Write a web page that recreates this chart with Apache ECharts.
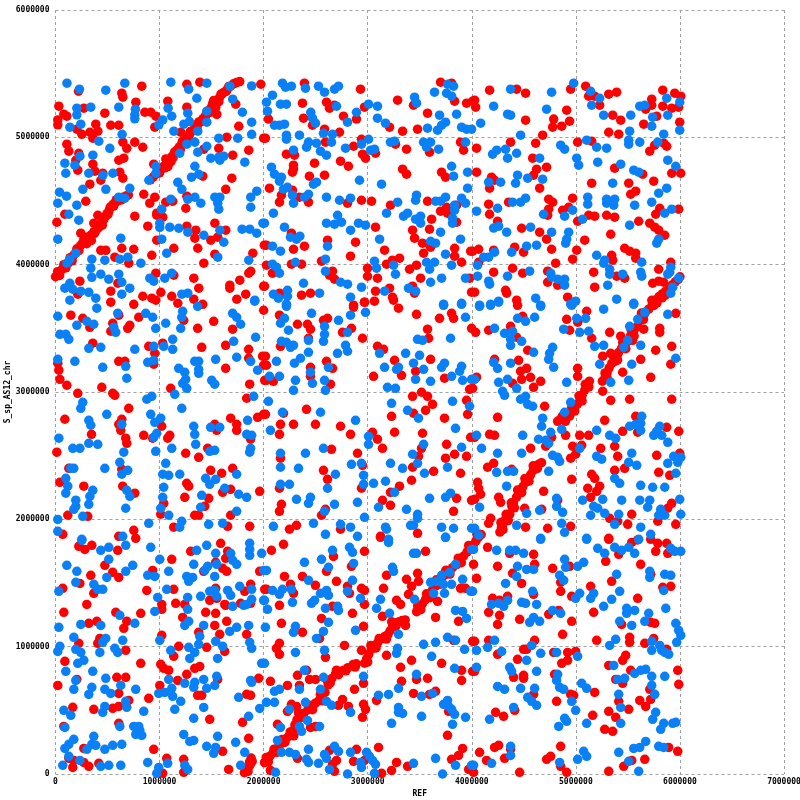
<!DOCTYPE html>
<html><head><meta charset="utf-8">
<style>html,body{margin:0;padding:0;background:#fff}#c{width:800px;height:800px}</style>
<script src="https://cdn.jsdelivr.net/npm/echarts@6/dist/echarts.min.js"></script>
</head><body><div id="c"></div>
<script>
// All positions in thousands of bases: [REF, S_sp_AS12_chr]
const xTicksMax = 7000, yTicksMax = 6000, tickStep = 1000;
const xName = "REF", yName = "S_sp_AS12_chr";
const redColor = "#ff0000", blueColor = "#0a80f6";

const redSyntenyA = [[0,3905],[30,3930],[60,3960],[90,3985],[120,4010],[150,4040],[175,4075],[195,4095],[215,4120],[240,4150],[260,4165],[285,4190],[300,4195],[320,4200],[345,4235],[370,4260],[390,4270],[415,4290],[440,4320],[465,4355],[480,4380],[495,4400],[515,4425],[535,4455],[555,4475],[575,4490],[600,4500],[625,4520],[650,4530],[680,4540],[700,4548],[300,4165],[335,4205],[345,4190],[290,4215],[40,3915],[100,3975],[160,4030],[225,4110],[310,4180],[375,4245],[450,4310],[505,4395],[560,4460],[640,4510],[20,3945],[80,4000],[140,4055],[205,4125],[270,4190],[330,4225],[395,4290],[455,4350],[525,4450],[585,4510]];
const redSyntenyB = [[912,4666],[940,4690],[965,4710],[990,4735],[1020,4760],[1045,4775],[1070,4800],[1090,4810],[1100,4830],[1120,4850],[1140,4870],[1165,4900],[1190,4925],[1215,4950],[1240,4975],[1265,5000],[1290,5025],[1315,5050],[1340,5075],[1365,5100],[1390,5120],[1415,5145],[1440,5165],[1460,5190],[1480,5215],[1500,5240],[1520,5255],[1540,5270],[1560,5295],[1575,5310],[1600,5340],[1620,5355],[1650,5375],[1680,5400],[1710,5420],[1740,5430],[1770,5438],[1530,5200],[1540,5235],[1550,5180],[1500,5200],[1520,5290],[1080,4770],[1110,4810],[1060,4830],[1050,4760],[1000,4720],[1060,4780],[1130,4840],[1200,4905],[1280,4990],[1360,5070],[1430,5130],[1490,5200],[1570,5280],[1640,5360],[1010,4755],[1075,4820],[1145,4885],[1220,4970],[1295,5045],[1375,5120],[1450,5190],[1510,5265],[1590,5340],[1665,5400]];
const redBlob = [[1815,10],[1830,25],[1845,40],[1860,60],[1875,80],[1890,100],[1880,125],[1865,95],[1850,20]];
const redSyntenyC = [[2010,90],[2035,115],[2060,140],[2090,165],[2120,195],[2150,225],[2185,245],[2210,275],[2240,295],[2270,310],[2285,340],[2300,385],[2320,425],[2350,450],[2385,475],[2425,505],[2460,530],[2495,555],[2530,575],[2560,600],[2590,640],[2620,700],[2655,750],[2690,785],[2735,805],[2770,815],[2810,835],[2860,860],[2890,865],[2970,870],[2990,905],[3010,940],[3035,980],[3060,1000],[3095,1030],[3130,1060],[3165,1080],[3195,1095],[3215,1125],[3240,1160],[3265,1185],[3300,1195],[3330,1205],[3360,1210],[3470,1275],[3495,1300],[3525,1335],[3555,1370],[3590,1405],[3620,1440],[3650,1475],[3680,1510],[3715,1545],[3745,1565],[3780,1590],[3815,1620],[3855,1645],[3885,1675],[3920,1710],[3955,1745],[3985,1775],[4015,1800],[4040,1830],[4065,1860],[4090,1880],[2045,95],[2125,170],[2205,250],[2290,300],[2365,445],[2470,505],[2570,575],[2640,715],[2720,780],[2790,810],[2880,840],[3000,880],[3080,990],[3180,1060],[3270,1160],[3350,1185],[3510,1290],[3600,1385],[3690,1490],[3790,1570],[3900,1660],[4000,1770],[2025,130],[2100,195],[2175,270],[2255,330],[2335,480],[2440,540],[2545,625],[2610,735],[2700,815],[3030,1010],[3110,1065],[3230,1195],[3480,1320],[3565,1415],[3660,1525],[3750,1600],[3870,1695],[3970,1795],[4050,1880]];
const redSyntenyD = [[4270,1900],[4285,1935],[4300,1965],[4320,1995],[4345,2020],[4365,2040],[4385,2100],[4400,2130],[4430,2175],[4460,2215],[4490,2255],[4515,2290],[4540,2310],[4565,2350],[4590,2385],[4615,2415],[4640,2430],[4670,2445],[4300,1920],[4350,1990],[4410,2090],[4480,2210],[4550,2300],[4630,2400],[4280,1975],[4330,2040],[4380,2130],[4440,2230],[4510,2320],[4590,2420]];
const redSyntenyE = [[4825,2770],[4850,2785],[4880,2790],[4910,2800],[4940,2810],[4965,2850],[4990,2885],[5015,2905],[5040,2930],[5060,2975],[5085,3015],[5110,3050],[5130,3085],[4900,2770],[4990,2850],[5060,2930],[5125,3040],[4870,2810],[4960,2880],[5030,2970],[5090,3060]];
const redSyntenyF = [[5255,3085],[5280,3110],[5300,3150],[5320,3190],[5345,3225],[5375,3240],[5395,3275],[5410,3310],[5440,3345],[5470,3370],[5500,3400],[5525,3440],[5555,3475],[5585,3510],[5615,3560],[5640,3590],[5665,3620],[5700,3650],[5735,3690],[5770,3725],[5800,3750],[5830,3770],[5860,3790],[5895,3810],[5925,3840],[5955,3865],[5985,3885],[6000,3905],[5780,3700],[5830,3740],[5860,3760],[5300,3110],[5400,3250],[5480,3340],[5560,3440],[5650,3570],[5750,3680],[5280,3150],[5360,3280],[5450,3390],[5530,3490],[5630,3620],[5730,3720]];

const redTop = [[221,5362],[829,5402],[637,5347],[647,5315],[1262,5417],[1387,5433],[1973,5417],[32,5245],[80,5182],[109,5166],[22,5137],[22,5098],[272,5229],[474,5190],[772,5276],[858,5197],[916,5197],[964,5166],[1079,5284],[1262,5237],[1732,5260],[387,5103],[531,5095],[608,5095],[205,5064],[253,5024],[330,5040],[407,5048],[359,4993],[954,5080],[1204,5040],[1761,5087],[109,4946],[128,4891],[224,4875],[195,4820],[214,4742],[359,4789],[378,4734],[435,4663],[455,4718],[608,4820],[656,4836],[647,4962],[685,4914],[762,4962],[839,4922],[618,4726],[647,4679],[944,4789],[1646,5001],[1569,4914],[1703,4860],[1857,4899],[2000,4993],[1425,4907],[1415,4695],[1694,4679],[1636,4592],[330,4632],[848,4553],[954,4530],[906,4483],[1060,4491],[1127,4498],[1262,4538],[1252,4443],[291,4498],[762,4381],[407,4388],[368,4326],[973,4404],[973,4388],[1031,4373],[887,4302],[1262,4302],[1348,4271],[1339,4208],[1531,4326],[1636,4271],[1559,4216],[1492,4192],[243,4247],[13,4333],[90,4396],[973,4192],[435,4113],[484,4113],[637,4129],[752,4121],[1137,4129],[1367,4129],[925,4074],[570,4059],[704,4012],[1425,4012],[1896,4090],[1531,4082],[2007,4153],[964,3933],[1137,3917],[1329,3894],[1857,3933],[1876,3948],[1771,3878],[1675,3839],[1675,3815],[1377,3815],[2000,3831],[234,3870],[599,3854],[531,3792],[531,3705],[1012,3783],[839,3752],[925,3737],[964,3721],[1117,3752],[1175,3697],[1329,3729],[1415,3689],[1828,3768],[1742,3729],[752,3689],[214,3768],
[2392,5425],[2931,5378],[3700,5433],[3806,5425],[3287,5292],[2373,5268],[2604,5276],[2633,5229],[2681,5252],[2969,5237],[3440,5252],[3835,5284],[3950,5268],[4008,5284],[3575,5190],[2767,5166],[2892,5143],[2383,5150],[2469,5095],[2046,5143],[2017,4993],[2585,5064],[2729,5040],[3210,5080],[3335,5048],[3479,5064],[2594,4962],[2864,4930],[2940,4985],[2219,4868],[2296,4860],[3267,4946],[3373,4907],[3594,4883],[3892,4962],[3921,4899],[2950,4868],[2979,4836],[3075,4875],[2739,4813],[2815,4773],[2489,4797],[2287,4781],[2287,4750],[2277,4726],[2440,4695],[2585,4703],[3335,4750],[3373,4711],[3710,4726],[3748,4687],[2056,4601],[2277,4585],[2171,4546],[2152,4491],[2344,4530],[2431,4491],[2806,4483],[2940,4506],[3037,4498],[3219,4467],[3575,4498],[3700,4420],[3758,4451],[3767,4404],[3854,4467],[3614,4357],[3594,4279],[3854,4334],[3431,4271],[3450,4208],[3075,4294],[2267,4247],[2614,4192],[2883,4177],[2027,4153],[2287,4121],[2392,4145],[3527,4169],[3604,4137],[3835,4129],[3989,4106],[3162,4114],[3537,4090],[3835,4067],[2835,4067],[3306,4051],[3238,4035],[3181,4004],[3469,3996],[3402,3964],[3902,4019],[2556,4027],[2364,4004],[2267,4004],[2027,3996],[2085,3933],[2662,3949],[2681,3886],[2633,3917],[2998,3972],[2998,3909],[3094,3894],[3508,3894],[3979,3894],[2008,3831],[3210,3815],[3075,3792],[3431,3831],[3450,3776],[3998,3784],[2152,3776],[2364,3760],[2450,3776],[3238,3745],[3248,3721],[2969,3705],[3065,3713],[2864,3682],
[4171,5370],[4431,5378],[4517,5347],[4950,5378],[5094,5402],[5123,5323],[5181,5323],[5316,5339],[5392,5355],[5835,5370],[5950,5347],[6008,5323],[4027,5292],[4037,5237],[5229,5252],[5729,5300],[5729,5252],[5835,5245],[5921,5229],[5988,5237],[5671,5221],[4912,5213],[4787,5143],[4940,5127],[4864,5088],[4777,5080],[4517,5135],[5354,5174],[5431,5135],[5652,5103],[5777,5166],[5998,5119],[5316,5040],[5412,5025],[4681,5017],[4614,4954],[4373,4962],[5017,4962],[5152,4970],[4046,4915],[5710,4891],[5758,4938],[5844,4954],[5873,4930],[4585,4836],[4719,4766],[5373,4758],[5642,4711],[5921,4718],[6008,4718],[4046,4726],[4623,4750],[4594,4703],[4190,4687],[4219,4663],[4171,4601],[5748,4656],[5152,4640],[5508,4640],[4652,4601],[5575,4577],[5527,4553],[4739,4514],[4777,4491],[4969,4522],[4162,4475],[4354,4491],[4739,4436],[4729,4388],[4873,4428],[4931,4451],[4171,4396],[5123,4388],[5181,4381],[5296,4388],[5373,4373],[5017,4341],[5988,4436],[5806,4443],[5767,4396],[4248,4341],[5604,4341],[5710,4326],[5758,4294],[5796,4271],[5854,4231],[4479,4286],[4652,4255],[4719,4200],[5335,4239],[5085,4192],[4412,4137],[4767,4121],[5008,4114],[5469,4129],[5517,4106],[5575,4090],[5575,4051],[5344,4074],[5354,4035],[4969,4043],[4210,4114],[4498,4098],[4066,4121],[4008,4106],[4066,4019],[4806,4012],[4392,3972],[4210,3941],[4489,3933],[4729,3949],[5171,3941],[5912,4019],[5796,3964],[5392,3910],[5469,3894],[4729,3862],[4825,3839],[5181,3823],[5738,3854],[5796,3870],[5844,3862],[4027,3784],[4325,3799],[4335,3776],[4431,3721],[4921,3745]];

const redMiddle = [[147,3603],[262,3579],[330,3508],[608,3603],[800,3587],[550,3540],[531,3477],[714,3524],[694,3500],[1232,3563],[1520,3555],[1366,3500],[1702,3493],[2000,3642],[358,3383],[896,3359],[1030,3383],[1405,3351],[1635,3367],[1856,3335],[954,3304],[1856,3265],[1990,3281],[608,3241],[666,3241],[944,3218],[22,3226],[32,3171],[42,3100],[109,3053],[1635,3186],[2000,3210],[214,2990],[445,3037],[550,2990],[570,2974],[1107,3029],[1866,3061],[2010,3092],[1837,2951],[704,2872],[90,2786],[637,2786],[608,2746],[627,2699],[1021,2731],[1683,2794],[1741,2746],[1741,2699],[1942,2801],[2000,2825],[1530,2746],[1549,2699],[346,2668],[848,2660],[1098,2660],[1078,2637],[934,2637],[675,2637],[685,2597],[1875,2629],[13,2527],[1251,2519],[1376,2487],[1462,2558],[128,2401],[637,2393],[1491,2385],[1702,2401],[1597,2362],[42,2291],[272,2260],[646,2260],[1261,2283],[1280,2260],[1683,2236],[1606,2212],[1962,2220],[762,2205],[1242,2173],[1472,2165],[1040,2126],[1434,2102],[118,2032],[310,2024],[1011,2040],[1338,2032],[1376,2032],[1683,2032],[1136,1938],[1654,1945],[1866,1945],[752,1914],[608,1867],[771,1851],[70,1882],
[2864,3665],[2969,3705],[3296,3658],[3469,3610],[2152,3603],[2614,3579],[2575,3563],[2325,3532],[2421,3532],[2450,3493],[3806,3618],[3825,3579],[3690,3579],[2844,3500],[2758,3469],[2950,3422],[3575,3493],[3585,3422],[3998,3500],[2431,3422],[2162,3359],[3094,3359],[3152,3335],[2017,3281],[2027,3210],[2604,3241],[2450,3194],[2450,3123],[2662,3186],[3258,3249],[3604,3257],[3460,3163],[3325,3131],[3056,3123],[3738,3108],[2027,3092],[2094,3084],[2642,3061],[3979,3021],[3431,2966],[3517,2998],[3575,2966],[3623,2903],[3556,2856],[3950,2935],[3960,2825],[2412,2864],[2017,2825],[2191,2833],[3229,2809],[3440,2833],[3738,2794],[2162,2746],[2287,2746],[2498,2746],[2739,2731],[2152,2668],[2835,2668],[3046,2684],[3258,2684],[3527,2676],[3094,2629],[3142,2558],[3989,2644],[3758,2589],[3517,2558],[2652,2550],[2902,2519],[3488,2495],[3835,2511],[3748,2480],[3950,2495],[2162,2480],[2950,2424],[3431,2409],[2575,2385],[3633,2377],[3892,2362],[2614,2314],[3421,2307],[3306,2260],[2940,2244],[2152,2244],[3219,2212],[3142,2149],[3854,2165],[3998,2149],[3219,2110],[2171,2118],[2152,2063],[2594,2079],[2556,2032],[3825,2063],[2248,1922],[2316,1953],[2739,1922],[3479,1890],[3123,1867],
[4440,3681],[5104,3634],[4912,3571],[5018,3548],[4489,3595],[5960,3618],[4037,3469],[4162,3485],[4373,3516],[4431,3430],[4940,3485],[5152,3422],[5325,3469],[5652,3493],[5806,3500],[5806,3469],[5431,3438],[5546,3406],[4537,3328],[5921,3359],[5767,3328],[4219,3257],[4450,3249],[5258,3281],[5335,3304],[5623,3257],[5912,3218],[4469,3163],[4527,3186],[5017,3186],[5017,3123],[5450,3155],[5719,3115],[4565,3115],[4479,3100],[4662,3084],[4392,3068],[4594,3037],[4046,3116],[4008,3029],[5258,3006],[5335,2935],[5517,2943],[5921,2943],[4700,2888],[4248,2801],[5277,2778],[5575,2809],[5873,2723],[5989,2691],[5450,2691],[5594,2684],[4027,2644],[4171,2668],[4219,2660],[4902,2660],[5037,2660],[5123,2660],[4565,2558],[4969,2574],[5056,2581],[5239,2558],[5373,2574],[4710,2574],[4767,2644],[4998,2511],[4950,2480],[5402,2495],[5777,2503],[5998,2519],[4152,2409],[4210,2440],[4383,2393],[5373,2385],[5469,2401],[5796,2369],[5902,2346],[5152,2354],[5181,2322],[4960,2314],[4056,2291],[4066,2244],[4085,2197],[4027,2157],[4690,2220],[4258,2173],[4277,2134],[5114,2244],[5229,2260],[5200,2220],[5142,2173],[4825,2150],[4508,2087],[4671,2079],[5921,2126],[5883,2087],[4181,2008],[4162,1969],[5325,2008],[5402,1985],[5537,2040],[5498,1961],[5787,1985],[5960,1961],[4517,1938],[4729,1930],[4950,1945],[5316,1851],[5594,1838],[4075,1882]];

const redBottom = [[224,1788],[282,1764],[349,1796],[598,1757],[1587,1812],[1299,1749],[1654,1749],[1635,1694],[1117,1686],[474,1639],[1539,1662],[550,1584],[608,1544],[339,1560],[934,1599],[1606,1615],[1645,1592],[1424,1592],[1962,1592],[70,1458],[234,1497],[368,1419],[877,1442],[1136,1450],[1539,1458],[1875,1490],[1818,1435],[2010,1450],[301,1332],[1021,1332],[1021,1293],[1155,1340],[1242,1332],[1482,1364],[1549,1380],[1626,1332],[1779,1340],[1635,1325],[1875,1340],[80,1270],[579,1270],[819,1262],[1443,1270],[1539,1262],[1222,1230],[1645,1199],[685,1199],[656,1144],[320,1183],[397,1199],[1530,1167],[1376,1113],[1578,1097],[1837,1097],[1021,1089],[426,1065],[406,1026],[224,1026],[1184,1003],[1453,995],[675,971],[1136,924],[1626,963],[90,885],[819,869],[1011,861],[1040,830],[1088,814],[1338,830],[1386,845],[1261,783],[589,759],[675,759],[1174,735],[205,743],[1952,751],[1558,743],[22,696],[1002,696],[608,633],[1366,618],[1405,618],[896,594],[1837,626],[1875,618],[704,578],[166,524],[368,508],[550,516],[608,531],[1482,429],[1798,406],[80,374],[608,398],[1856,280],[272,201],[944,194],[1606,178],[1069,123],[1232,115],[176,107],[166,52],[272,91],[320,60],[416,84],[1030,5],[1232,13],[1664,36],[2010,91],[128,123],
[2191,1804],[2075,1757],[3123,1859],[3556,1749],[2969,1749],[2671,1709],[2844,1631],[2604,1592],[2200,1552],[2373,1552],[2258,1490],[3181,1560],[3373,1529],[3479,1576],[2700,1513],[2498,1482],[2027,1450],[2287,1419],[2806,1474],[2825,1419],[2940,1458],[2969,1442],[3152,1458],[3421,1474],[3392,1411],[3488,1513],[3892,1458],[3940,1458],[2152,1325],[2969,1332],[2662,1317],[3277,1364],[3316,1332],[3671,1356],[2854,1262],[3142,1238],[2556,1222],[3652,1230],[3873,1199],[2171,1183],[2960,1160],[2373,1113],[3363,1167],[2537,1065],[3825,1050],[4008,1042],[2152,1026],[2123,987],[2152,940],[2777,1010],[2940,971],[2594,916],[3181,932],[3421,893],[3710,869],[3316,838],[2325,775],[2412,814],[2065,728],[2441,743],[2498,743],[3575,751],[3902,814],[4008,806],[3902,735],[3325,728],[3469,743],[2229,696],[2344,696],[2960,712],[2873,665],[3440,633],[3594,625],[3652,649],[3085,578],[2758,586],[2719,539],[2815,531],[2960,547],[2979,508],[2950,445],[2316,531],[2267,547],[2229,492],[3777,492],[2133,390],[2450,366],[2498,374],[3767,304],[3104,209],[3912,201],[3873,146],[3806,115],[2892,194],[2633,186],[2700,107],[2325,123],[2864,100],[2969,107],[2662,76],[3277,91],[3383,60],[3229,28],[3133,5],[2681,21],[2065,28],[3970,36],
[4152,1780],[5316,1843],[4364,1733],[4594,1725],[5412,1725],[5537,1819],[5719,1843],[5787,1812],[5873,1812],[5767,1749],[5883,1733],[5287,1670],[4017,1647],[4248,1631],[4604,1647],[4777,1615],[4940,1631],[5623,1647],[4392,1576],[4046,1537],[4479,1497],[4854,1505],[5344,1513],[5719,1568],[5912,1474],[5835,1466],[4854,1435],[5142,1474],[4594,1411],[4960,1395],[5594,1380],[4200,1380],[4344,1395],[4267,1364],[4162,1270],[4267,1246],[5171,1270],[4460,1215],[4739,1254],[4835,1285],[4248,1175],[4960,1199],[5440,1175],[5719,1191],[5758,1183],[4873,1097],[5517,1073],[5517,1034],[5200,1050],[5748,1065],[5662,1026],[4027,1042],[4162,1050],[4604,1050],[4498,979],[4527,979],[4248,940],[4787,955],[4921,955],[4998,963],[4921,893],[4864,869],[4440,901],[5479,932],[5450,893],[5316,853],[5873,979],[4027,806],[4498,775],[4498,751],[4402,759],[4796,783],[5979,814],[5383,743],[5450,712],[5527,814],[5989,704],[5710,665],[5181,641],[4594,626],[4950,626],[4979,618],[4815,571],[5412,571],[5614,578],[5719,586],[5671,531],[5508,508],[4412,500],[4229,484],[4306,453],[5316,492],[5383,445],[5162,461],[5277,351],[5354,335],[4219,209],[4258,225],[4854,217],[4373,194],[4075,170],[5892,209],[5979,178],[4142,107],[4315,123],[4719,115],[4758,139],[5662,115],[5537,107],[5460,60],[4854,60],[4460,13],[4912,13],[5316,21],[4017,13]];

const blueTop = [[110,5425],[230,5378],[483,5370],[666,5425],[1108,5433],[1280,5378],[1454,5425],[1675,5402],[1885,5404],[1358,5307],[1703,5300],[205,5229],[205,5177],[339,5237],[608,5237],[768,5221],[762,5177],[762,5145],[1082,5229],[1117,5166],[1271,5190],[1287,5124],[1233,5103],[1454,5205],[1454,5119],[1796,5197],[1885,5119],[1031,5137],[993,5098],[138,5080],[243,5103],[640,5024],[1137,5048],[1367,5048],[1885,5024],[1751,4993],[1569,4993],[416,4970],[522,4914],[1262,4946],[1339,4962],[1454,4930],[1367,4883],[1194,4875],[234,4852],[359,4860],[90,4797],[186,4781],[99,4718],[320,4718],[455,4702],[551,4718],[964,4773],[964,4718],[897,4663],[1492,4836],[1569,4844],[1617,4852],[1579,4820],[1819,4805],[1339,4773],[1377,4710],[1307,4687],[1175,4647],[1214,4592],[263,4592],[484,4592],[714,4600],[608,4530],[666,4522],[38,4569],[106,4538],[22,4483],[205,4467],[1108,4514],[1271,4514],[1339,4530],[1396,4483],[1531,4530],[1579,4530],[1559,4483],[1569,4436],[1876,4530],[1934,4577],[1876,4451],[1021,4436],[128,4396],[224,4349],[1002,4326],[1002,4292],[1098,4294],[1184,4286],[1271,4255],[1425,4231],[1579,4271],[1617,4176],[1793,4279],[1867,4279],[1934,4247],[1993,4326],[22,4200],[627,4208],[1021,4200],[1069,4090],[195,4090],[138,4043],[109,4012],[349,4043],[474,4035],[618,4043],[695,4059],[820,4012],[1559,4059],[1857,4035],[339,3972],[435,3925],[349,3901],[608,3925],[512,3886],[637,3862],[906,3894],[944,3870],[1050,3894],[1117,3933],[138,3854],[90,3815],[166,3807],[243,3792],[320,3783],[387,3737],[138,3721],[714,3815],[637,3768],[1214,3768],[1271,3776],[1915,3721],
[2181,5425],[2210,5394],[2267,5402],[2085,5331],[2027,5276],[2162,5260],[2219,5260],[2402,5386],[2527,5402],[2585,5355],[2681,5378],[2719,5402],[3642,5355],[3767,5417],[3825,5402],[3758,5347],[3806,5323],[3450,5315],[3469,5268],[2700,5245],[3008,5260],[3094,5245],[2037,5205],[2453,5197],[2469,5150],[2498,5111],[2892,5197],[2806,5119],[3094,5150],[3171,5111],[3690,5174],[3854,5182],[3748,5119],[3710,5095],[3671,5056],[3902,5080],[3950,5064],[3998,5064],[3575,5072],[2104,5095],[2152,5095],[2200,5103],[2219,5017],[2219,4985],[2344,5017],[2575,5032],[2662,5024],[2652,4962],[2431,4962],[2412,4923],[2508,4954],[2546,4891],[2604,4860],[2787,4915],[3008,4985],[2940,4946],[3027,4899],[3065,4907],[3219,4962],[3258,4970],[3537,4962],[3604,4962],[3565,4923],[3681,4907],[3940,4962],[2287,4899],[2075,4766],[2104,4711],[2171,4687],[2152,4656],[2191,4593],[2229,4608],[2479,4632],[2508,4648],[2921,4663],[3133,4632],[3806,4773],[3825,4695],[3960,4726],[3960,4601],[2277,4546],[2287,4483],[2392,4530],[2431,4553],[2604,4530],[2729,4506],[2835,4522],[3469,4546],[3460,4506],[3287,4491],[3652,4498],[3700,4498],[3748,4530],[3902,4522],[3940,4483],[3835,4467],[3835,4428],[3815,4365],[3815,4326],[2094,4404],[2008,4326],[3181,4404],[3344,4381],[3383,4404],[3460,4357],[3508,4381],[3508,4326],[2710,4388],[2604,4326],[2681,4318],[2748,4334],[2912,4326],[2979,4310],[2835,4271],[2200,4294],[2258,4216],[2316,4200],[2348,4224],[2085,4145],[2162,4106],[2614,4145],[3114,4200],[3700,4255],[3892,4200],[3604,4184],[3652,4169],[3748,4082],[2594,4043],[2085,4004],[2123,3980],[2306,4019],[3065,4027],[3248,3996],[3085,3972],[3565,4019],[3642,4019],[3594,3964],[3806,3996],[2152,3933],[2594,3949],[3267,3925],[2383,3854],[2739,3862],[2806,3847],[2940,3823],[3604,3862],[3710,3894],[3940,3894],[3392,3815],[3460,3792],[3162,3792],[2229,3799],[2094,3768],[2142,3737],[2229,3752],[2537,3776],[2835,3745],[2219,3690],[3729,3690],[3902,3697],
[4373,5378],[4767,5355],[4979,5425],[5142,5362],[5229,5307],[5152,5252],[5873,5307],[5998,5276],[4210,5245],[4344,5182],[4373,5174],[4719,5221],[5614,5245],[5662,5252],[5267,5174],[5527,5174],[5883,5174],[5738,5158],[5729,5088],[4085,5111],[5517,5048],[5998,5056],[4469,5017],[5844,5025],[5104,4978],[5200,4923],[5296,4915],[5508,4978],[5508,4946],[5614,4962],[5787,4962],[4854,4938],[4892,4907],[4200,4868],[4239,4899],[4325,4907],[4431,4875],[4344,4836],[4652,4836],[5008,4836],[5027,4781],[5210,4805],[5431,4789],[5883,4821],[5960,4773],[5556,4742],[5604,4726],[4440,4703],[4421,4640],[4537,4679],[4681,4671],[4162,4648],[4277,4648],[5354,4640],[5873,4601],[5796,4561],[5114,4530],[5114,4475],[5296,4514],[5373,4514],[5296,4483],[5364,4467],[5565,4467],[5729,4491],[4392,4491],[4469,4491],[4517,4522],[4046,4420],[4248,4443],[4969,4428],[4690,4396],[4892,4381],[5065,4357],[5854,4404],[5921,4436],[5517,4310],[4210,4287],[4258,4302],[4335,4255],[4565,4294],[4767,4255],[4931,4255],[4912,4200],[4902,4169],[4623,4153],[4527,4145],[4383,4098],[4219,4098],[4162,4059],[4114,4059],[4056,3996],[5200,4074],[5277,4035],[5267,4012],[5633,4019],[5796,4200],[5777,4169],[4056,3910],[4344,3910],[4556,3949],[4162,3870],[4171,3847],[4758,3933],[4767,3902],[4825,3886],[4892,3886],[4892,3839],[5325,3964],[5325,3925],[5450,3925],[5623,3941],[5633,3910],[5912,3980],[5902,3941],[5883,3925],[5988,3894],[5931,3823],[5912,3776],[5306,3839],[5392,3729],[4614,3737],[4998,3713],[4950,3690],[5556,3697],[4258,3713],[4181,3690],[4075,3682],[4662,3682]];

const blueMiddle = [[397,3658],[22,3595],[598,3618],[205,3524],[301,3555],[368,3532],[867,3618],[934,3587],[1059,3540],[1222,3634],[1213,3587],[1203,3500],[1366,3673],[1702,3618],[1741,3587],[1779,3532],[1914,3713],[560,3508],[579,3469],[963,3500],[42,3453],[99,3453],[128,3414],[1126,3414],[1712,3398],[1923,3430],[320,3343],[435,3351],[762,3335],[944,3359],[1040,3359],[1126,3335],[22,3257],[186,3241],[944,3249],[886,3233],[675,3202],[454,3194],[685,3108],[1338,3241],[1376,3241],[1539,3257],[1741,3273],[1875,3241],[1942,3171],[1184,3186],[1242,3155],[1376,3178],[1376,3147],[1251,3100],[1222,3068],[1261,3029],[1501,3092],[1530,3061],[1146,2982],[877,2943],[925,2966],[262,2919],[243,2872],[1213,2872],[1904,2966],[493,2825],[915,2825],[320,2778],[339,2739],[637,2746],[1011,2794],[954,2762],[1328,2731],[1338,2668],[1491,2723],[1578,2723],[1846,2778],[973,2676],[944,2644],[1837,2668],[1885,2660],[32,2637],[320,2597],[406,2589],[166,2558],[234,2558],[1347,2589],[1117,2558],[963,2534],[656,2527],[1482,2534],[1530,2542],[1875,2558],[1866,2527],[147,2401],[176,2401],[474,2401],[618,2448],[1059,2440],[694,2385],[637,2354],[1030,2354],[1088,2346],[1194,2354],[1741,2354],[99,2322],[118,2260],[99,2205],[1443,2322],[1482,2275],[1539,2314],[1040,2252],[1626,2244],[685,2228],[714,2181],[358,2228],[330,2181],[1405,2189],[1760,2197],[1837,2173],[1030,2173],[320,2118],[195,2150],[195,2102],[176,2079],[675,2087],[1011,2087],[1395,2095],[262,2024],[1088,2032],[1741,2063],[22,1999],[896,1969],[1213,1985],[1194,1938],[1472,1961],[1606,1969],[22,1906],[646,1867],[253,1843],
[2219,3673],[2460,3618],[2835,3603],[2979,3626],[2200,3579],[2162,3540],[2239,3485],[2719,3563],[2585,3516],[2585,3453],[2575,3398],[2806,3469],[2171,3398],[2219,3390],[2258,3351],[2287,3367],[2431,3406],[2431,3312],[2787,3367],[2806,3320],[2710,3304],[2123,3241],[2296,3226],[2354,3265],[2623,3194],[2450,3155],[2056,3123],[2152,3123],[2306,3092],[2469,3068],[2585,3092],[2594,3013],[2287,3013],[3729,3681],[3902,3689],[3940,3587],[3796,3422],[3479,3414],[3527,3406],[3364,3304],[3498,3288],[3114,3304],[3440,3226],[3162,3194],[3277,3178],[3296,3194],[3537,3178],[3710,3194],[3738,3226],[3902,3202],[3883,3163],[3806,3123],[3460,3100],[3604,3084],[3912,3092],[3998,3100],[3190,3037],[3267,3029],[2046,2927],[2181,2841],[2546,2841],[2883,2778],[3229,2911],[3383,2856],[3488,2794],[3815,2927],[3979,2888],[3844,2715],[2065,2699],[3008,2652],[3008,2589],[2575,2558],[2402,2519],[2162,2519],[2162,2409],[2335,2401],[2844,2432],[2940,2440],[2690,2354],[2960,2346],[2960,2275],[2614,2244],[2162,2275],[2248,2275],[3056,2283],[3171,2299],[3537,2589],[3431,2511],[3902,2566],[3479,2440],[3219,2440],[3335,2401],[3546,2362],[3767,2409],[3258,2212],[2316,2157],[2450,2173],[2431,2126],[2681,2118],[2902,2134],[2585,2063],[3594,2165],[3748,2173],[3796,2205],[3104,2095],[3373,2079],[3479,2040],[3479,2008],[2969,2016],[2094,1945],[2479,1969],[2739,1961],[2835,1938],[2594,1882],[2902,1867],[3171,1938],[3181,1922],[3412,1953],[3440,1953],[3710,1938],[3825,1930],[3748,1859],[3998,1930],[3200,1843],
[4075,3673],[4181,3681],[4258,3705],[4662,3673],[5267,3650],[4960,3681],[5556,3689],[4440,3579],[4517,3555],[4604,3587],[5008,3579],[5094,3579],[5883,3610],[5662,3626],[5594,3571],[5517,3516],[4219,3500],[4315,3461],[4392,3477],[4373,3414],[4373,3367],[4479,3398],[4883,3493],[5037,3469],[5123,3477],[5498,3406],[5460,3351],[5623,3367],[5181,3359],[5267,3367],[4777,3351],[4748,3304],[4739,3257],[4594,3312],[5960,3265],[4210,3233],[4248,3186],[4373,3226],[4787,3194],[5229,3218],[5537,3218],[4027,3100],[4258,3076],[4344,3100],[4431,3029],[4912,3076],[5335,3076],[5508,3092],[4296,3006],[4315,2974],[4469,2943],[4517,2966],[4537,2903],[4585,2888],[4950,2919],[4892,2841],[4681,2794],[4671,2731],[4864,2707],[4758,2684],[4046,2660],[4489,2660],[4642,2629],[4710,2621],[4739,2597],[5200,2699],[5325,2660],[5383,2636],[5037,2558],[4094,2558],[4248,2519],[4479,2519],[4777,2503],[4825,2487],[4844,2456],[5200,2495],[5248,2472],[5537,2519],[5508,2448],[5585,2424],[5633,2809],[5517,2731],[5575,2746],[5623,2754],[5623,2699],[5806,2731],[5777,2691],[5748,2660],[5825,2660],[5883,2605],[4239,2369],[4344,2377],[4402,2377],[4739,2377],[5883,2440],[5940,2495],[6008,2487],[5979,2448],[5960,2362],[5373,2322],[5421,2283],[5623,2267],[5738,2252],[5854,2252],[4335,2260],[5065,2150],[5258,2157],[5440,2150],[5614,2150],[5710,2150],[5690,2095],[5998,2157],[4815,2165],[4815,2102],[4873,2055],[4075,2095],[4527,2047],[4652,2071],[5171,2102],[5142,2032],[5210,2087],[5277,2047],[5412,2040],[5815,2079],[5796,2032],[5854,2032],[6008,2040],[5373,1961],[4431,1953],[4864,1969],[4892,1898],[5623,1938],[5719,1882],[4027,1930],[4066,1875],[4662,1851],[5104,1851]];

const blueBottom = [[253,1835],[675,1796],[435,1757],[512,1780],[915,1780],[1453,1796],[1357,1757],[1539,1733],[1683,1733],[1866,1812],[1866,1764],[1866,1717],[1981,1733],[1002,1686],[512,1686],[109,1639],[1328,1647],[1702,1678],[1741,1647],[1549,1647],[1462,1631],[1434,1599],[205,1592],[742,1639],[675,1592],[1088,1592],[2000,1599],[493,1544],[886,1560],[954,1552],[1261,1552],[1318,1544],[1280,1513],[1530,1552],[195,1505],[368,1490],[406,1450],[454,1450],[32,1435],[1069,1450],[1770,1474],[1885,1450],[1482,1435],[1530,1442],[1549,1395],[1654,1442],[1683,1403],[982,1387],[1270,1387],[1395,1395],[1885,1372],[2000,1364],[1837,1332],[1808,1325],[1702,1317],[1270,1293],[954,1277],[618,1246],[1280,1199],[1242,1167],[762,1183],[435,1167],[243,1175],[32,1152],[1424,1167],[1856,1167],[1741,1152],[1674,1120],[1386,1081],[176,1073],[483,1065],[454,1034],[646,1050],[1002,1050],[1376,1018],[1539,1042],[1606,1003],[1866,1034],[1885,987],[42,1003],[22,963],[195,979],[243,955],[426,955],[570,987],[598,955],[1107,971],[1280,995],[1338,955],[1290,908],[1558,908],[272,893],[214,869],[1981,869],[99,806],[358,806],[483,751],[1088,743],[1242,712],[1338,720],[1328,681],[1424,743],[1530,696],[1549,767],[1453,673],[1875,735],[1885,720],[195,735],[627,696],[176,665],[349,681],[320,625],[474,665],[531,633],[771,665],[992,633],[1050,641],[1117,673],[1126,610],[1203,571],[1760,602],[675,571],[685,524],[474,531],[454,484],[80,500],[147,461],[848,492],[1146,508],[1424,523],[1962,515],[1856,453],[1328,437],[90,366],[618,374],[752,374],[800,374],[771,311],[829,303],[810,343],[1232,311],[1558,296],[1290,256],[1328,264],[1731,249],[1453,217],[1539,209],[1520,162],[1818,170],[176,272],[128,233],[90,201],[368,296],[349,233],[301,194],[387,225],[474,194],[550,225],[637,233],[128,139],[234,107],[70,68],[435,60],[512,68],[627,68],[886,91],[1078,84],[992,52],[973,5],[1242,68],[1270,36],[1779,68],
[3200,1819],[3748,1859],[2825,1780],[2854,1741],[2662,1757],[3440,1733],[3469,1733],[3998,1764],[2392,1662],[2556,1686],[2864,1654],[3844,1647],[2623,1623],[2027,1599],[3238,1623],[3248,1592],[3787,1584],[3710,1560],[2431,1521],[2854,1521],[3912,1529],[2085,1442],[2181,1450],[2152,1411],[2267,1450],[2546,1419],[2604,1442],[2623,1403],[2806,1435],[2931,1380],[3604,1505],[3662,1513],[3729,1490],[3806,1490],[3633,1419],[3738,1419],[3989,1435],[3450,1372],[2008,1364],[2277,1348],[2489,1364],[2460,1340],[3123,1372],[2594,1301],[2719,1285],[2710,1317],[3085,1301],[3210,1262],[2037,1293],[3844,1285],[3912,1277],[3950,1222],[2623,1191],[2306,1160],[2287,1113],[2575,1120],[2883,1128],[3296,1097],[2017,1152],[2508,1065],[3767,1073],[3844,1050],[3537,1018],[3652,1034],[2306,955],[2585,971],[3287,987],[3277,948],[3931,979],[3614,924],[2008,869],[3835,830],[2392,814],[2575,759],[2960,767],[3469,783],[3296,673],[2344,665],[2104,649],[2152,665],[2546,665],[2027,563],[2104,563],[3104,618],[3200,625],[3517,610],[3623,633],[3767,578],[3729,547],[3777,531],[3806,508],[3835,469],[2402,563],[2604,571],[2652,539],[2835,484],[2248,508],[3296,523],[3296,484],[3335,476],[3517,453],[3940,445],[2421,421],[2162,366],[2344,374],[2364,335],[2537,374],[3229,398],[3815,390],[2133,264],[2431,194],[2171,170],[2248,170],[2306,154],[2681,217],[2719,178],[2585,154],[2604,123],[2835,170],[2989,170],[3017,139],[3046,107],[3075,76],[2412,115],[2431,91],[2527,84],[2931,91],[2940,52],[2633,36],[3652,123],[3844,68],[3440,84],[2114,13],[2806,0],[3065,5],[3719,0],[3998,68],
[4662,1843],[5104,1843],[5604,1843],[4017,1764],[4239,1757],[4364,1757],[4421,1757],[4498,1733],[5210,1772],[5277,1733],[5373,1780],[5440,1757],[5508,1780],[5565,1733],[5912,1772],[5950,1749],[6008,1749],[4892,1686],[5075,1662],[5017,1631],[4902,1623],[4440,1631],[4527,1607],[4594,1607],[4431,1552],[4844,1560],[4883,1521],[5392,1568],[5710,1592],[5710,1544],[5854,1568],[5912,1560],[4325,1497],[4008,1435],[4585,1435],[5037,1419],[4998,1380],[5171,1419],[5142,1380],[5421,1435],[5344,1372],[5267,1317],[5844,1442],[4190,1332],[4258,1340],[4306,1317],[4344,1364],[4479,1348],[4517,1340],[4623,1332],[5864,1301],[4777,1285],[4854,1262],[5488,1301],[5488,1262],[5565,1285],[5700,1262],[4594,1230],[4556,1191],[4652,1199],[5421,1199],[5537,1167],[5662,1199],[5960,1183],[5988,1128],[6008,1089],[5969,1034],[4219,1050],[4152,995],[4046,971],[4575,1010],[5383,1058],[5325,1010],[5729,1042],[5729,971],[5806,1010],[5825,971],[5854,955],[5892,940],[4287,963],[4662,948],[4815,955],[5017,924],[4527,893],[5364,853],[4046,838],[4364,838],[4383,806],[4623,806],[5565,790],[5623,814],[5671,822],[4825,783],[4815,735],[4844,681],[4883,665],[5729,767],[5854,767],[5402,743],[5469,751],[5056,712],[5104,673],[5729,696],[5758,626],[4248,688],[4315,665],[4469,673],[4604,673],[5412,626],[4537,602],[4575,571],[4623,539],[4960,571],[5431,523],[4998,500],[4402,523],[5767,484],[5738,429],[4171,429],[4892,437],[4912,414],[4835,374],[5104,398],[5431,398],[5844,398],[5931,398],[5960,406],[5815,351],[5671,256],[4373,217],[4373,146],[5556,201],[5614,209],[5796,217],[5844,209],[5075,178],[5104,139],[5412,170],[5017,115],[4190,84],[4844,91],[5508,100],[4017,68],[5604,21]];

const toBases = p => [p[0] * 1000, p[1] * 1000];
const redPoints = [].concat(redTop, redMiddle, redBottom, redBlob, redSyntenyA, redSyntenyB, redSyntenyC, redSyntenyD, redSyntenyE, redSyntenyF).map(toBases);
const bluePoints = [].concat(blueTop, blueMiddle, blueBottom).map(toBases);

const font = {fontFamily: '"DejaVu Sans Mono", monospace', fontSize: 8, fontWeight: 'bold', color: '#000'};
const gridStyle = {show: true, lineStyle: {color: '#a0a0a0', type: [3, 3], width: 1}};
const axisBase = {
  type: 'value', min: 0, interval: tickStep * 1000,
  axisLine: {show: false}, axisTick: {show: false},
  splitLine: gridStyle, nameTextStyle: font, nameMoveOverlap: false,
  axisLabel: Object.assign({formatter: v => String(v), showMinLabel: true, showMaxLabel: true}, font)
};
const chart = echarts.init(document.getElementById('c'), null, {renderer: 'canvas'});
chart.setOption({
  animation: false, backgroundColor: '#fff',
  grid: {left: 55.5, right: 16, top: 10, bottom: 26, containLabel: false, outerBoundsMode: 'none'},
  xAxis: Object.assign({}, axisBase, {max: xTicksMax * 1000, name: xName, nameLocation: 'middle', nameGap: 16,
    axisLabel: Object.assign({}, axisBase.axisLabel, {margin: 4})}),
  yAxis: Object.assign({}, axisBase, {max: yTicksMax * 1000, name: yName, nameLocation: 'middle', nameGap: 44,
    axisLabel: Object.assign({}, axisBase.axisLabel, {margin: 6})}),
  series: [
    {type: 'scatter', data: redPoints, symbol: 'circle', symbolSize: 9.5, clip: false, large: false,
     itemStyle: {color: redColor, opacity: 1}, z: 2},
    {type: 'scatter', data: bluePoints, symbol: 'circle', symbolSize: 9.5, clip: false, large: false,
     itemStyle: {color: blueColor, opacity: 1}, z: 3}
  ]
});
</script></body></html>
